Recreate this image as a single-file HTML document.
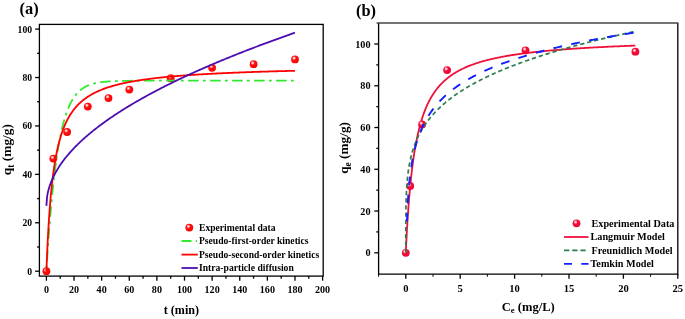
<!DOCTYPE html><html><head><meta charset="utf-8"><title>Figure</title><style>html,body{margin:0;padding:0;background:#fff}svg{display:block;filter:blur(0.45px)}</style></head><body><svg width="685" height="319" viewBox="0 0 685 319" font-family="'Liberation Serif', 'Times New Roman', serif" font-weight="bold" fill="#000">
<rect width="685" height="319" fill="#fff"/>
<defs><radialGradient id="ball" cx="0.38" cy="0.34" r="0.75"><stop offset="0" stop-color="#fff0f0"/><stop offset="0.14" stop-color="#ffc0c0"/><stop offset="0.34" stop-color="#ff1010"/><stop offset="1" stop-color="#fa0000"/></radialGradient>
<radialGradient id="ballb" cx="0.38" cy="0.34" r="0.75"><stop offset="0" stop-color="#fff0f4"/><stop offset="0.14" stop-color="#ffc0cc"/><stop offset="0.34" stop-color="#f5103c"/><stop offset="1" stop-color="#ee0030"/></radialGradient></defs>
<g stroke="#000" stroke-width="1.3" fill="none">
<rect x="39.4" y="24.4" width="283.8" height="251.7"/>
<path d="M39.4,271.20 h-4.3"/>
<path d="M39.4,246.99 h-2.3"/>
<path d="M39.4,222.78 h-4.3"/>
<path d="M39.4,198.57 h-2.3"/>
<path d="M39.4,174.36 h-4.3"/>
<path d="M39.4,150.15 h-2.3"/>
<path d="M39.4,125.94 h-4.3"/>
<path d="M39.4,101.73 h-2.3"/>
<path d="M39.4,77.52 h-4.3"/>
<path d="M39.4,53.31 h-2.3"/>
<path d="M39.4,29.10 h-4.3"/>
<path d="M46.40,276.1 v4.6"/>
<path d="M60.21,276.1 v2.6"/>
<path d="M74.02,276.1 v4.6"/>
<path d="M87.83,276.1 v2.6"/>
<path d="M101.64,276.1 v4.6"/>
<path d="M115.45,276.1 v2.6"/>
<path d="M129.26,276.1 v4.6"/>
<path d="M143.07,276.1 v2.6"/>
<path d="M156.88,276.1 v4.6"/>
<path d="M170.69,276.1 v2.6"/>
<path d="M184.50,276.1 v4.6"/>
<path d="M198.31,276.1 v2.6"/>
<path d="M212.12,276.1 v4.6"/>
<path d="M225.93,276.1 v2.6"/>
<path d="M239.74,276.1 v4.6"/>
<path d="M253.55,276.1 v2.6"/>
<path d="M267.36,276.1 v4.6"/>
<path d="M281.17,276.1 v2.6"/>
<path d="M294.98,276.1 v4.6"/>
<path d="M308.79,276.1 v2.6"/>
<path d="M322.60,276.1 v4.6"/>
</g>
<g font-size="9.8">
<text transform="translate(32.10,274.60) scale(0.930,1)" font-size="10.4" text-anchor="end">0</text>
<text transform="translate(32.10,226.18) scale(0.930,1)" font-size="10.4" text-anchor="end">20</text>
<text transform="translate(32.10,177.76) scale(0.930,1)" font-size="10.4" text-anchor="end">40</text>
<text transform="translate(32.10,129.34) scale(0.930,1)" font-size="10.4" text-anchor="end">60</text>
<text transform="translate(32.10,80.92) scale(0.930,1)" font-size="10.4" text-anchor="end">80</text>
<text transform="translate(32.10,32.50) scale(0.930,1)" font-size="10.4" text-anchor="end">100</text>
<text transform="translate(46.40,293.00) scale(0.970,1)" font-size="10.4" text-anchor="middle">0</text>
<text transform="translate(74.02,293.00) scale(0.970,1)" font-size="10.4" text-anchor="middle">20</text>
<text transform="translate(101.64,293.00) scale(0.970,1)" font-size="10.4" text-anchor="middle">40</text>
<text transform="translate(129.26,293.00) scale(0.970,1)" font-size="10.4" text-anchor="middle">60</text>
<text transform="translate(156.88,293.00) scale(0.970,1)" font-size="10.4" text-anchor="middle">80</text>
<text transform="translate(184.50,293.00) scale(0.970,1)" font-size="10.4" text-anchor="middle">100</text>
<text transform="translate(212.12,293.00) scale(0.970,1)" font-size="10.4" text-anchor="middle">120</text>
<text transform="translate(239.74,293.00) scale(0.970,1)" font-size="10.4" text-anchor="middle">140</text>
<text transform="translate(267.36,293.00) scale(0.970,1)" font-size="10.4" text-anchor="middle">160</text>
<text transform="translate(294.98,293.00) scale(0.970,1)" font-size="10.4" text-anchor="middle">180</text>
<text transform="translate(322.60,293.00) scale(0.970,1)" font-size="10.4" text-anchor="middle">200</text>
</g>
<text x="19.5" y="13.8" font-size="16.4">(a)</text>
<text x="181.4" y="313.6" font-size="12.1" text-anchor="middle">t (min)</text>
<text transform="translate(11.2,149.6) rotate(-90)" font-size="13.4" text-anchor="middle">q<tspan font-size="9.5" dy="3">t</tspan><tspan dy="-3"> (mg/g)</tspan></text>
<circle cx="46.4" cy="271.2" r="3.9" fill="url(#ball)"/>
<circle cx="53.3" cy="158.6" r="3.9" fill="url(#ball)"/>
<circle cx="67.1" cy="132.0" r="3.9" fill="url(#ball)"/>
<circle cx="87.8" cy="106.6" r="3.9" fill="url(#ball)"/>
<circle cx="108.5" cy="98.1" r="3.9" fill="url(#ball)"/>
<circle cx="129.3" cy="89.6" r="3.9" fill="url(#ball)"/>
<circle cx="170.7" cy="78.2" r="3.9" fill="url(#ball)"/>
<circle cx="212.1" cy="67.8" r="3.9" fill="url(#ball)"/>
<circle cx="253.6" cy="64.2" r="3.9" fill="url(#ball)"/>
<circle cx="295.0" cy="59.4" r="3.9" fill="url(#ball)"/>
<g fill="none" stroke-linejoin="round">
<path d="M46.40,271.20 L47.09,259.92 L47.78,249.32 L48.47,239.34 L49.16,229.95 L49.85,221.11 L50.54,212.80 L51.23,204.98 L51.92,197.63 L52.61,190.71 L53.30,184.19 L54.00,178.07 L54.69,172.30 L55.38,166.88 L56.07,161.78 L56.76,156.98 L57.45,152.46 L58.14,148.21 L58.83,144.22 L59.52,140.46 L60.21,136.92 L60.90,133.59 L61.59,130.46 L62.28,127.51 L62.97,124.74 L63.66,122.13 L64.35,119.68 L65.04,117.37 L65.73,115.20 L66.42,113.15 L67.11,111.23 L67.81,109.42 L68.50,107.72 L69.19,106.12 L69.88,104.61 L70.57,103.20 L71.26,101.86 L71.95,100.61 L72.64,99.43 L73.33,98.32 L74.02,97.27 L74.71,96.29 L75.40,95.37 L76.09,94.50 L76.78,93.68 L77.47,92.91 L78.16,92.18 L78.85,91.50 L79.54,90.86 L80.23,90.26 L80.92,89.69 L81.62,89.16 L82.31,88.65 L83.00,88.18 L83.69,87.74 L84.38,87.32 L85.07,86.93 L85.76,86.55 L86.45,86.21 L87.14,85.88 L87.83,85.57 L88.52,85.28 L89.21,85.01 L89.90,84.75 L90.59,84.51 L91.28,84.28 L91.97,84.07 L92.66,83.87 L93.35,83.68 L94.04,83.50 L94.73,83.33 L95.43,83.17 L96.12,83.03 L96.81,82.89 L97.50,82.75 L98.19,82.63 L98.88,82.51 L99.57,82.41 L100.26,82.30 L100.95,82.21 L101.64,82.11 L102.33,82.03 L103.02,81.95 L103.71,81.87 L104.40,81.80 L105.09,81.73 L105.78,81.67 L106.47,81.61 L107.16,81.56 L107.85,81.50 L108.55,81.45 L109.24,81.41 L109.93,81.36 L110.62,81.32 L111.31,81.28 L112.00,81.25 L112.69,81.21 L113.38,81.18 L114.07,81.15 L114.76,81.12 L115.45,81.09 L116.14,81.07 L116.83,81.05 L117.52,81.02 L118.21,81.00 L118.90,80.98 L119.59,80.96 L120.28,80.95 L120.97,80.93 L121.66,80.91 L122.35,80.90 L123.05,80.89 L123.74,80.87 L124.43,80.86 L125.12,80.85 L125.81,80.84 L126.50,80.83 L127.19,80.82 L127.88,80.81 L128.57,80.80 L129.26,80.79 L129.95,80.79 L130.64,80.78 L131.33,80.77 L132.02,80.77 L132.71,80.76 L133.40,80.75 L134.09,80.75 L134.78,80.74 L135.47,80.74 L136.16,80.74 L136.86,80.73 L137.55,80.73 L138.24,80.72 L138.93,80.72 L139.62,80.72 L140.31,80.71 L141.00,80.71 L141.69,80.71 L142.38,80.71 L143.07,80.70 L143.76,80.70 L144.45,80.70 L145.14,80.70 L145.83,80.70 L146.52,80.69 L147.21,80.69 L147.90,80.69 L148.59,80.69 L149.28,80.69 L149.97,80.69 L150.67,80.69 L151.36,80.69 L152.05,80.68 L152.74,80.68 L153.43,80.68 L154.12,80.68 L154.81,80.68 L155.50,80.68 L156.19,80.68 L156.88,80.68 L157.57,80.68 L158.26,80.68 L158.95,80.68 L159.64,80.68 L160.33,80.68 L161.02,80.67 L161.71,80.67 L162.40,80.67 L163.09,80.67 L163.78,80.67 L164.48,80.67 L165.17,80.67 L165.86,80.67 L166.55,80.67 L167.24,80.67 L167.93,80.67 L168.62,80.67 L169.31,80.67 L170.00,80.67 L170.69,80.67 L171.38,80.67 L172.07,80.67 L172.76,80.67 L173.45,80.67 L174.14,80.67 L174.83,80.67 L175.52,80.67 L176.21,80.67 L176.90,80.67 L177.59,80.67 L178.29,80.67 L178.98,80.67 L179.67,80.67 L180.36,80.67 L181.05,80.67 L181.74,80.67 L182.43,80.67 L183.12,80.67 L183.81,80.67 L184.50,80.67 L185.19,80.67 L185.88,80.67 L186.57,80.67 L187.26,80.67 L187.95,80.67 L188.64,80.67 L189.33,80.67 L190.02,80.67 L190.71,80.67 L191.41,80.67 L192.10,80.67 L192.79,80.67 L193.48,80.67 L194.17,80.67 L194.86,80.67 L195.55,80.67 L196.24,80.67 L196.93,80.67 L197.62,80.67 L198.31,80.67 L199.00,80.67 L199.69,80.67 L200.38,80.67 L201.07,80.67 L201.76,80.67 L202.45,80.67 L203.14,80.67 L203.83,80.67 L204.52,80.67 L205.22,80.67 L205.91,80.67 L206.60,80.67 L207.29,80.67 L207.98,80.67 L208.67,80.67 L209.36,80.67 L210.05,80.67 L210.74,80.67 L211.43,80.67 L212.12,80.67 L212.81,80.67 L213.50,80.67 L214.19,80.67 L214.88,80.67 L215.57,80.67 L216.26,80.67 L216.95,80.67 L217.64,80.67 L218.33,80.67 L219.03,80.67 L219.72,80.67 L220.41,80.67 L221.10,80.67 L221.79,80.67 L222.48,80.67 L223.17,80.67 L223.86,80.67 L224.55,80.67 L225.24,80.67 L225.93,80.67 L226.62,80.67 L227.31,80.67 L228.00,80.67 L228.69,80.67 L229.38,80.67 L230.07,80.67 L230.76,80.67 L231.45,80.67 L232.14,80.67 L232.84,80.67 L233.53,80.67 L234.22,80.67 L234.91,80.67 L235.60,80.67 L236.29,80.67 L236.98,80.67 L237.67,80.67 L238.36,80.67 L239.05,80.67 L239.74,80.67 L240.43,80.67 L241.12,80.67 L241.81,80.67 L242.50,80.67 L243.19,80.67 L243.88,80.67 L244.57,80.67 L245.26,80.67 L245.95,80.67 L246.65,80.67 L247.34,80.67 L248.03,80.67 L248.72,80.67 L249.41,80.67 L250.10,80.67 L250.79,80.67 L251.48,80.67 L252.17,80.67 L252.86,80.67 L253.55,80.67 L254.24,80.67 L254.93,80.67 L255.62,80.67 L256.31,80.67 L257.00,80.67 L257.69,80.67 L258.38,80.67 L259.07,80.67 L259.76,80.67 L260.45,80.67 L261.15,80.67 L261.84,80.67 L262.53,80.67 L263.22,80.67 L263.91,80.67 L264.60,80.67 L265.29,80.67 L265.98,80.67 L266.67,80.67 L267.36,80.67 L268.05,80.67 L268.74,80.67 L269.43,80.67 L270.12,80.67 L270.81,80.67 L271.50,80.67 L272.19,80.67 L272.88,80.67 L273.57,80.67 L274.26,80.67 L274.96,80.67 L275.65,80.67 L276.34,80.67 L277.03,80.67 L277.72,80.67 L278.41,80.67 L279.10,80.67 L279.79,80.67 L280.48,80.67 L281.17,80.67 L281.86,80.67 L282.55,80.67 L283.24,80.67 L283.93,80.67 L284.62,80.67 L285.31,80.67 L286.00,80.67 L286.69,80.67 L287.38,80.67 L288.07,80.67 L288.77,80.67 L289.46,80.67 L290.15,80.67 L290.84,80.67 L291.53,80.67 L292.22,80.67 L292.91,80.67 L293.60,80.67 L294.29,80.67 L294.98,80.67" stroke="#2fe82f" stroke-width="1.8" stroke-dasharray="10.5 4.3 2.8 4.4" stroke-dashoffset="11.5"/>
<path d="M46.40,271.20 L47.09,254.07 L47.78,239.56 L48.47,227.12 L49.16,216.33 L49.85,206.88 L50.54,198.54 L51.23,191.13 L51.92,184.49 L52.61,178.51 L53.30,173.10 L54.00,168.19 L54.69,163.70 L55.38,159.58 L56.07,155.79 L56.76,152.29 L57.45,149.05 L58.14,146.04 L58.83,143.24 L59.52,140.62 L60.21,138.18 L60.90,135.88 L61.59,133.73 L62.28,131.70 L62.97,129.79 L63.66,127.98 L64.35,126.27 L65.04,124.65 L65.73,123.11 L66.42,121.65 L67.11,120.26 L67.81,118.94 L68.50,117.68 L69.19,116.48 L69.88,115.33 L70.57,114.23 L71.26,113.17 L71.95,112.16 L72.64,111.19 L73.33,110.26 L74.02,109.37 L74.71,108.51 L75.40,107.68 L76.09,106.89 L76.78,106.12 L77.47,105.38 L78.16,104.66 L78.85,103.97 L79.54,103.31 L80.23,102.66 L80.92,102.04 L81.62,101.44 L82.31,100.85 L83.00,100.29 L83.69,99.74 L84.38,99.21 L85.07,98.69 L85.76,98.19 L86.45,97.71 L87.14,97.24 L87.83,96.78 L88.52,96.33 L89.21,95.90 L89.90,95.47 L90.59,95.06 L91.28,94.66 L91.97,94.27 L92.66,93.89 L93.35,93.52 L94.04,93.16 L94.73,92.81 L95.43,92.47 L96.12,92.13 L96.81,91.80 L97.50,91.49 L98.19,91.17 L98.88,90.87 L99.57,90.57 L100.26,90.28 L100.95,89.99 L101.64,89.72 L102.33,89.44 L103.02,89.18 L103.71,88.92 L104.40,88.66 L105.09,88.41 L105.78,88.16 L106.47,87.92 L107.16,87.69 L107.85,87.46 L108.55,87.23 L109.24,87.01 L109.93,86.79 L110.62,86.58 L111.31,86.37 L112.00,86.17 L112.69,85.97 L113.38,85.77 L114.07,85.58 L114.76,85.39 L115.45,85.20 L116.14,85.01 L116.83,84.83 L117.52,84.66 L118.21,84.48 L118.90,84.31 L119.59,84.14 L120.28,83.98 L120.97,83.82 L121.66,83.66 L122.35,83.50 L123.05,83.34 L123.74,83.19 L124.43,83.04 L125.12,82.90 L125.81,82.75 L126.50,82.61 L127.19,82.47 L127.88,82.33 L128.57,82.19 L129.26,82.06 L129.95,81.93 L130.64,81.80 L131.33,81.67 L132.02,81.54 L132.71,81.42 L133.40,81.30 L134.09,81.18 L134.78,81.06 L135.47,80.94 L136.16,80.82 L136.86,80.71 L137.55,80.60 L138.24,80.49 L138.93,80.38 L139.62,80.27 L140.31,80.16 L141.00,80.06 L141.69,79.95 L142.38,79.85 L143.07,79.75 L143.76,79.65 L144.45,79.55 L145.14,79.46 L145.83,79.36 L146.52,79.27 L147.21,79.17 L147.90,79.08 L148.59,78.99 L149.28,78.90 L149.97,78.81 L150.67,78.73 L151.36,78.64 L152.05,78.55 L152.74,78.47 L153.43,78.39 L154.12,78.30 L154.81,78.22 L155.50,78.14 L156.19,78.06 L156.88,77.98 L157.57,77.91 L158.26,77.83 L158.95,77.75 L159.64,77.68 L160.33,77.60 L161.02,77.53 L161.71,77.46 L162.40,77.39 L163.09,77.32 L163.78,77.25 L164.48,77.18 L165.17,77.11 L165.86,77.04 L166.55,76.97 L167.24,76.91 L167.93,76.84 L168.62,76.78 L169.31,76.71 L170.00,76.65 L170.69,76.59 L171.38,76.52 L172.07,76.46 L172.76,76.40 L173.45,76.34 L174.14,76.28 L174.83,76.22 L175.52,76.16 L176.21,76.11 L176.90,76.05 L177.59,75.99 L178.29,75.93 L178.98,75.88 L179.67,75.82 L180.36,75.77 L181.05,75.72 L181.74,75.66 L182.43,75.61 L183.12,75.56 L183.81,75.50 L184.50,75.45 L185.19,75.40 L185.88,75.35 L186.57,75.30 L187.26,75.25 L187.95,75.20 L188.64,75.15 L189.33,75.11 L190.02,75.06 L190.71,75.01 L191.41,74.96 L192.10,74.92 L192.79,74.87 L193.48,74.82 L194.17,74.78 L194.86,74.73 L195.55,74.69 L196.24,74.65 L196.93,74.60 L197.62,74.56 L198.31,74.52 L199.00,74.47 L199.69,74.43 L200.38,74.39 L201.07,74.35 L201.76,74.31 L202.45,74.27 L203.14,74.23 L203.83,74.19 L204.52,74.15 L205.22,74.11 L205.91,74.07 L206.60,74.03 L207.29,73.99 L207.98,73.95 L208.67,73.91 L209.36,73.88 L210.05,73.84 L210.74,73.80 L211.43,73.76 L212.12,73.73 L212.81,73.69 L213.50,73.66 L214.19,73.62 L214.88,73.59 L215.57,73.55 L216.26,73.52 L216.95,73.48 L217.64,73.45 L218.33,73.41 L219.03,73.38 L219.72,73.35 L220.41,73.31 L221.10,73.28 L221.79,73.25 L222.48,73.22 L223.17,73.18 L223.86,73.15 L224.55,73.12 L225.24,73.09 L225.93,73.06 L226.62,73.03 L227.31,73.00 L228.00,72.96 L228.69,72.93 L229.38,72.90 L230.07,72.87 L230.76,72.85 L231.45,72.82 L232.14,72.79 L232.84,72.76 L233.53,72.73 L234.22,72.70 L234.91,72.67 L235.60,72.64 L236.29,72.62 L236.98,72.59 L237.67,72.56 L238.36,72.53 L239.05,72.51 L239.74,72.48 L240.43,72.45 L241.12,72.42 L241.81,72.40 L242.50,72.37 L243.19,72.35 L243.88,72.32 L244.57,72.29 L245.26,72.27 L245.95,72.24 L246.65,72.22 L247.34,72.19 L248.03,72.17 L248.72,72.14 L249.41,72.12 L250.10,72.09 L250.79,72.07 L251.48,72.05 L252.17,72.02 L252.86,72.00 L253.55,71.97 L254.24,71.95 L254.93,71.93 L255.62,71.90 L256.31,71.88 L257.00,71.86 L257.69,71.83 L258.38,71.81 L259.07,71.79 L259.76,71.77 L260.45,71.74 L261.15,71.72 L261.84,71.70 L262.53,71.68 L263.22,71.66 L263.91,71.64 L264.60,71.61 L265.29,71.59 L265.98,71.57 L266.67,71.55 L267.36,71.53 L268.05,71.51 L268.74,71.49 L269.43,71.47 L270.12,71.45 L270.81,71.43 L271.50,71.41 L272.19,71.39 L272.88,71.37 L273.57,71.35 L274.26,71.33 L274.96,71.31 L275.65,71.29 L276.34,71.27 L277.03,71.25 L277.72,71.23 L278.41,71.21 L279.10,71.19 L279.79,71.17 L280.48,71.16 L281.17,71.14 L281.86,71.12 L282.55,71.10 L283.24,71.08 L283.93,71.06 L284.62,71.05 L285.31,71.03 L286.00,71.01 L286.69,70.99 L287.38,70.97 L288.07,70.96 L288.77,70.94 L289.46,70.92 L290.15,70.90 L290.84,70.89 L291.53,70.87 L292.22,70.85 L292.91,70.84 L293.60,70.82 L294.29,70.80 L294.98,70.79" stroke="#f00" stroke-width="1.8"/>
<path d="M46.40,205.83 L47.09,196.71 L47.78,192.93 L48.47,190.03 L49.16,187.58 L49.85,185.43 L50.54,183.48 L51.23,181.69 L51.92,180.03 L52.61,178.46 L53.30,176.98 L54.00,175.57 L54.69,174.22 L55.38,172.93 L56.07,171.69 L56.76,170.49 L57.45,169.34 L58.14,168.21 L58.83,167.12 L59.52,166.06 L60.21,165.03 L60.90,164.02 L61.59,163.04 L62.28,162.07 L62.97,161.13 L63.66,160.21 L64.35,159.31 L65.04,158.42 L65.73,157.55 L66.42,156.70 L67.11,155.86 L67.81,155.03 L68.50,154.22 L69.19,153.42 L69.88,152.63 L70.57,151.85 L71.26,151.09 L71.95,150.33 L72.64,149.59 L73.33,148.85 L74.02,148.12 L74.71,147.41 L75.40,146.70 L76.09,146.00 L76.78,145.31 L77.47,144.62 L78.16,143.95 L78.85,143.28 L79.54,142.62 L80.23,141.96 L80.92,141.31 L81.62,140.67 L82.31,140.04 L83.00,139.41 L83.69,138.78 L84.38,138.16 L85.07,137.55 L85.76,136.94 L86.45,136.34 L87.14,135.75 L87.83,135.16 L88.52,134.57 L89.21,133.99 L89.90,133.41 L90.59,132.84 L91.28,132.27 L91.97,131.71 L92.66,131.15 L93.35,130.59 L94.04,130.04 L94.73,129.49 L95.43,128.95 L96.12,128.41 L96.81,127.87 L97.50,127.34 L98.19,126.81 L98.88,126.29 L99.57,125.77 L100.26,125.25 L100.95,124.73 L101.64,124.22 L102.33,123.71 L103.02,123.21 L103.71,122.71 L104.40,122.21 L105.09,121.71 L105.78,121.22 L106.47,120.73 L107.16,120.24 L107.85,119.75 L108.55,119.27 L109.24,118.79 L109.93,118.31 L110.62,117.84 L111.31,117.37 L112.00,116.90 L112.69,116.43 L113.38,115.97 L114.07,115.51 L114.76,115.05 L115.45,114.59 L116.14,114.13 L116.83,113.68 L117.52,113.23 L118.21,112.78 L118.90,112.34 L119.59,111.89 L120.28,111.45 L120.97,111.01 L121.66,110.57 L122.35,110.13 L123.05,109.70 L123.74,109.27 L124.43,108.84 L125.12,108.41 L125.81,107.98 L126.50,107.56 L127.19,107.14 L127.88,106.72 L128.57,106.30 L129.26,105.88 L129.95,105.46 L130.64,105.05 L131.33,104.64 L132.02,104.23 L132.71,103.82 L133.40,103.41 L134.09,103.01 L134.78,102.60 L135.47,102.20 L136.16,101.80 L136.86,101.40 L137.55,101.00 L138.24,100.60 L138.93,100.21 L139.62,99.82 L140.31,99.42 L141.00,99.03 L141.69,98.64 L142.38,98.26 L143.07,97.87 L143.76,97.49 L144.45,97.10 L145.14,96.72 L145.83,96.34 L146.52,95.96 L147.21,95.58 L147.90,95.20 L148.59,94.83 L149.28,94.45 L149.97,94.08 L150.67,93.71 L151.36,93.34 L152.05,92.97 L152.74,92.60 L153.43,92.23 L154.12,91.87 L154.81,91.50 L155.50,91.14 L156.19,90.78 L156.88,90.42 L157.57,90.06 L158.26,89.70 L158.95,89.34 L159.64,88.98 L160.33,88.63 L161.02,88.27 L161.71,87.92 L162.40,87.57 L163.09,87.22 L163.78,86.86 L164.48,86.52 L165.17,86.17 L165.86,85.82 L166.55,85.47 L167.24,85.13 L167.93,84.78 L168.62,84.44 L169.31,84.10 L170.00,83.76 L170.69,83.42 L171.38,83.08 L172.07,82.74 L172.76,82.40 L173.45,82.06 L174.14,81.73 L174.83,81.39 L175.52,81.06 L176.21,80.72 L176.90,80.39 L177.59,80.06 L178.29,79.73 L178.98,79.40 L179.67,79.07 L180.36,78.74 L181.05,78.42 L181.74,78.09 L182.43,77.77 L183.12,77.44 L183.81,77.12 L184.50,76.79 L185.19,76.47 L185.88,76.15 L186.57,75.83 L187.26,75.51 L187.95,75.19 L188.64,74.87 L189.33,74.55 L190.02,74.24 L190.71,73.92 L191.41,73.61 L192.10,73.29 L192.79,72.98 L193.48,72.67 L194.17,72.35 L194.86,72.04 L195.55,71.73 L196.24,71.42 L196.93,71.11 L197.62,70.80 L198.31,70.50 L199.00,70.19 L199.69,69.88 L200.38,69.58 L201.07,69.27 L201.76,68.97 L202.45,68.66 L203.14,68.36 L203.83,68.06 L204.52,67.75 L205.22,67.45 L205.91,67.15 L206.60,66.85 L207.29,66.55 L207.98,66.26 L208.67,65.96 L209.36,65.66 L210.05,65.36 L210.74,65.07 L211.43,64.77 L212.12,64.48 L212.81,64.18 L213.50,63.89 L214.19,63.60 L214.88,63.30 L215.57,63.01 L216.26,62.72 L216.95,62.43 L217.64,62.14 L218.33,61.85 L219.03,61.56 L219.72,61.27 L220.41,60.99 L221.10,60.70 L221.79,60.41 L222.48,60.13 L223.17,59.84 L223.86,59.56 L224.55,59.27 L225.24,58.99 L225.93,58.71 L226.62,58.42 L227.31,58.14 L228.00,57.86 L228.69,57.58 L229.38,57.30 L230.07,57.02 L230.76,56.74 L231.45,56.46 L232.14,56.18 L232.84,55.90 L233.53,55.63 L234.22,55.35 L234.91,55.07 L235.60,54.80 L236.29,54.52 L236.98,54.25 L237.67,53.97 L238.36,53.70 L239.05,53.42 L239.74,53.15 L240.43,52.88 L241.12,52.61 L241.81,52.34 L242.50,52.06 L243.19,51.79 L243.88,51.52 L244.57,51.25 L245.26,50.99 L245.95,50.72 L246.65,50.45 L247.34,50.18 L248.03,49.91 L248.72,49.65 L249.41,49.38 L250.10,49.12 L250.79,48.85 L251.48,48.58 L252.17,48.32 L252.86,48.06 L253.55,47.79 L254.24,47.53 L254.93,47.27 L255.62,47.00 L256.31,46.74 L257.00,46.48 L257.69,46.22 L258.38,45.96 L259.07,45.70 L259.76,45.44 L260.45,45.18 L261.15,44.92 L261.84,44.66 L262.53,44.40 L263.22,44.15 L263.91,43.89 L264.60,43.63 L265.29,43.38 L265.98,43.12 L266.67,42.86 L267.36,42.61 L268.05,42.35 L268.74,42.10 L269.43,41.85 L270.12,41.59 L270.81,41.34 L271.50,41.09 L272.19,40.83 L272.88,40.58 L273.57,40.33 L274.26,40.08 L274.96,39.83 L275.65,39.58 L276.34,39.33 L277.03,39.08 L277.72,38.83 L278.41,38.58 L279.10,38.33 L279.79,38.08 L280.48,37.83 L281.17,37.59 L281.86,37.34 L282.55,37.09 L283.24,36.85 L283.93,36.60 L284.62,36.35 L285.31,36.11 L286.00,35.86 L286.69,35.62 L287.38,35.37 L288.07,35.13 L288.77,34.89 L289.46,34.64 L290.15,34.40 L290.84,34.16 L291.53,33.92 L292.22,33.67 L292.91,33.43 L293.60,33.19 L294.29,32.95 L294.98,32.71" stroke="#4d0db0" stroke-width="1.8"/>
</g>
<circle cx="189.3" cy="227.6" r="3.9" fill="url(#ball)"/>
<g fill="none">
<path d="M181.5,241 H191.5 M195.8,241 h1.2" stroke="#2fe82f" stroke-width="1.8"/>
<path d="M181.5,254.6 H197.8" stroke="#f00" stroke-width="1.8"/>
<path d="M181.5,268 H197.8" stroke="#4d0db0" stroke-width="1.8"/>
</g>
<g font-size="9.62">
<text x="199" y="230.8">Experimental data</text>
<text x="199" y="244.2">Pseudo-first-order kinetics</text>
<text x="199" y="257.7">Pseudo-second-order kinetics</text>
<text x="199" y="271.1">Intra-particle diffusion</text>
</g>
<g stroke="#000" stroke-width="1.3" fill="none">
<path d="M378.6,23.0 V274.1 H677.8 V23.0"/>
<path d="M376.6,23.0 H678.4" stroke="#444" stroke-width="1.6"/>
<path d="M378.6,252.80 h-4.3"/>
<path d="M378.6,231.92 h-2.3"/>
<path d="M378.6,211.04 h-4.3"/>
<path d="M378.6,190.16 h-2.3"/>
<path d="M378.6,169.28 h-4.3"/>
<path d="M378.6,148.40 h-2.3"/>
<path d="M378.6,127.52 h-4.3"/>
<path d="M378.6,106.64 h-2.3"/>
<path d="M378.6,85.76 h-4.3"/>
<path d="M378.6,64.88 h-2.3"/>
<path d="M378.6,44.00 h-4.3"/>
<path d="M378.60,274.1 v2.6" stroke-width="1"/>
<path d="M405.80,274.1 v4.6" stroke-width="1.3"/>
<path d="M433.00,274.1 v2.6" stroke-width="1"/>
<path d="M460.20,274.1 v4.6" stroke-width="1.3"/>
<path d="M487.40,274.1 v2.6" stroke-width="1"/>
<path d="M514.60,274.1 v4.6" stroke-width="1.3"/>
<path d="M541.80,274.1 v2.6" stroke-width="1"/>
<path d="M569.00,274.1 v4.6" stroke-width="1.3"/>
<path d="M596.20,274.1 v2.6" stroke-width="1"/>
<path d="M623.40,274.1 v4.6" stroke-width="1.3"/>
<path d="M650.60,274.1 v2.6" stroke-width="1"/>
<path d="M677.80,274.1 v4.6" stroke-width="1.3"/>
</g>
<g font-size="9.8">
<text transform="translate(370.60,256.40) scale(0.940,1)" font-size="10.9" text-anchor="end">0</text>
<text transform="translate(370.60,214.64) scale(0.940,1)" font-size="10.9" text-anchor="end">20</text>
<text transform="translate(370.60,172.88) scale(0.940,1)" font-size="10.9" text-anchor="end">40</text>
<text transform="translate(370.60,131.12) scale(0.940,1)" font-size="10.9" text-anchor="end">60</text>
<text transform="translate(370.60,89.36) scale(0.940,1)" font-size="10.9" text-anchor="end">80</text>
<text transform="translate(370.60,47.60) scale(0.940,1)" font-size="10.9" text-anchor="end">100</text>
<text transform="translate(405.80,291.70) scale(0.960,1)" font-size="11.0" text-anchor="middle">0</text>
<text transform="translate(460.20,291.70) scale(0.960,1)" font-size="11.0" text-anchor="middle">5</text>
<text transform="translate(514.60,291.70) scale(0.960,1)" font-size="11.0" text-anchor="middle">10</text>
<text transform="translate(569.00,291.70) scale(0.960,1)" font-size="11.0" text-anchor="middle">15</text>
<text transform="translate(623.40,291.70) scale(0.960,1)" font-size="11.0" text-anchor="middle">20</text>
<text transform="translate(677.80,291.70) scale(0.960,1)" font-size="11.0" text-anchor="middle">25</text>
</g>
<text x="356" y="15.7" font-size="16.4">(b)</text>
<text x="528.3" y="310.6" font-size="12.55" text-anchor="middle">C<tspan font-size="8.7" dy="2.7">e</tspan><tspan dy="-2.7"> (mg/L)</tspan></text>
<text transform="translate(348.1,147.9) rotate(-90)" font-size="13.3" text-anchor="middle">q<tspan font-size="9.5" dy="3">e</tspan><tspan dy="-3"> (mg/g)</tspan></text>
<path d="M405.80,252.80 L405.80,252.77 L405.81,252.67 L405.81,252.52 L405.82,252.30 L405.84,252.02 L405.85,251.68 L405.87,251.28 L405.89,250.82 L405.92,250.29 L405.94,249.72 L405.97,249.08 L406.01,248.39 L406.04,247.64 L406.08,246.84 L406.12,245.98 L406.17,245.08 L406.21,244.12 L406.26,243.12 L406.32,242.07 L406.37,240.97 L406.43,239.83 L406.49,238.65 L406.56,237.42 L406.63,236.16 L406.70,234.87 L406.77,233.53 L406.85,232.17 L406.92,230.77 L407.01,229.34 L407.09,227.88 L407.18,226.40 L407.27,224.90 L407.36,223.37 L407.46,221.81 L407.56,220.24 L407.66,218.65 L407.76,217.05 L407.87,215.43 L407.98,213.80 L408.10,212.15 L408.21,210.50 L408.33,208.83 L408.45,207.16 L408.58,205.48 L408.71,203.80 L408.84,202.12 L408.97,200.43 L409.11,198.74 L409.24,197.05 L409.39,195.36 L409.53,193.68 L409.68,191.99 L409.83,190.31 L409.98,188.64 L410.14,186.97 L410.30,185.31 L410.46,183.66 L410.63,182.01 L410.79,180.37 L410.97,178.75 L411.14,177.13 L411.32,175.52 L411.49,173.93 L411.68,172.34 L411.86,170.77 L412.05,169.21 L412.24,167.66 L412.43,166.13 L412.63,164.61 L412.83,163.10 L413.03,161.61 L413.24,160.13 L413.45,158.67 L413.66,157.22 L413.87,155.79 L414.09,154.37 L414.31,152.97 L414.53,151.58 L414.75,150.21 L414.98,148.85 L415.21,147.51 L415.45,146.18 L415.68,144.87 L415.92,143.58 L416.17,142.30 L416.41,141.04 L416.66,139.79 L416.91,138.56 L417.17,137.34 L417.42,136.14 L417.68,134.95 L417.94,133.78 L418.21,132.63 L418.48,131.49 L418.75,130.36 L419.02,129.25 L419.30,128.16 L419.58,127.08 L419.86,126.01 L420.15,124.96 L420.44,123.92 L420.73,122.90 L421.02,121.89 L421.32,120.89 L421.62,119.91 L421.92,118.94 L422.23,117.99 L422.54,117.05 L422.85,116.12 L423.16,115.20 L423.48,114.30 L423.80,113.41 L424.12,112.53 L424.45,111.67 L424.78,110.81 L425.11,109.97 L425.44,109.14 L425.78,108.33 L426.12,107.52 L426.46,106.72 L426.81,105.94 L427.16,105.17 L427.51,104.41 L427.86,103.66 L428.22,102.92 L428.58,102.19 L428.94,101.47 L429.31,100.76 L429.68,100.06 L430.05,99.37 L430.42,98.69 L430.80,98.02 L431.18,97.35 L431.56,96.70 L431.95,96.06 L432.34,95.43 L432.73,94.80 L433.12,94.19 L433.52,93.58 L433.92,92.98 L434.33,92.39 L434.73,91.81 L435.14,91.23 L435.55,90.66 L435.97,90.11 L436.38,89.55 L436.80,89.01 L437.23,88.47 L437.65,87.95 L438.08,87.42 L438.51,86.91 L438.95,86.40 L439.39,85.90 L439.83,85.41 L440.27,84.92 L440.72,84.44 L441.17,83.97 L441.62,83.50 L442.07,83.04 L442.53,82.58 L442.99,82.13 L443.45,81.69 L443.92,81.25 L444.39,80.82 L444.86,80.40 L445.34,79.98 L445.82,79.56 L446.30,79.15 L446.78,78.75 L447.27,78.35 L447.75,77.96 L448.25,77.57 L448.74,77.18 L449.24,76.81 L449.74,76.43 L450.24,76.06 L450.75,75.70 L451.26,75.34 L451.77,74.99 L452.29,74.64 L452.81,74.29 L453.33,73.95 L453.85,73.61 L454.38,73.28 L454.91,72.95 L455.44,72.63 L455.97,72.31 L456.51,71.99 L457.05,71.68 L457.60,71.37 L458.14,71.06 L458.69,70.76 L459.24,70.47 L459.80,70.17 L460.36,69.88 L460.92,69.59 L461.48,69.31 L462.05,69.03 L462.62,68.76 L463.19,68.48 L463.77,68.21 L464.35,67.95 L464.93,67.68 L465.51,67.42 L466.10,67.16 L466.69,66.91 L467.28,66.66 L467.88,66.41 L468.47,66.17 L469.07,65.92 L469.68,65.68 L470.29,65.45 L470.90,65.21 L471.51,64.98 L472.12,64.75 L472.74,64.53 L473.36,64.30 L473.99,64.08 L474.61,63.86 L475.24,63.65 L475.88,63.43 L476.51,63.22 L477.15,63.01 L477.79,62.81 L478.44,62.60 L479.08,62.40 L479.73,62.20 L480.39,62.00 L481.04,61.81 L481.70,61.62 L482.36,61.43 L483.03,61.24 L483.69,61.05 L484.36,60.86 L485.04,60.68 L485.71,60.50 L486.39,60.32 L487.07,60.15 L487.76,59.97 L488.44,59.80 L489.13,59.63 L489.83,59.46 L490.52,59.29 L491.22,59.12 L491.92,58.96 L492.63,58.80 L493.34,58.64 L494.05,58.48 L494.76,58.32 L495.48,58.16 L496.19,58.01 L496.92,57.86 L497.64,57.71 L498.37,57.56 L499.10,57.41 L499.83,57.26 L500.57,57.12 L501.31,56.97 L502.05,56.83 L502.79,56.69 L503.54,56.55 L504.29,56.41 L505.04,56.28 L505.80,56.14 L506.56,56.01 L507.32,55.88 L508.09,55.75 L508.85,55.62 L509.62,55.49 L510.40,55.36 L511.17,55.23 L511.95,55.11 L512.73,54.99 L513.52,54.86 L514.31,54.74 L515.10,54.62 L515.89,54.50 L516.69,54.39 L517.49,54.27 L518.29,54.15 L519.09,54.04 L519.90,53.93 L520.71,53.81 L521.53,53.70 L522.34,53.59 L523.16,53.48 L523.98,53.38 L524.81,53.27 L525.64,53.16 L526.47,53.06 L527.30,52.95 L528.14,52.85 L528.98,52.75 L529.82,52.65 L530.66,52.55 L531.51,52.45 L532.36,52.35 L533.22,52.25 L534.07,52.15 L534.93,52.06 L535.79,51.96 L536.66,51.87 L537.53,51.78 L538.40,51.68 L539.27,51.59 L540.15,51.50 L541.03,51.41 L541.91,51.32 L542.80,51.23 L543.68,51.15 L544.58,51.06 L545.47,50.97 L546.37,50.89 L547.27,50.80 L548.17,50.72 L549.07,50.64 L549.98,50.55 L550.89,50.47 L551.81,50.39 L552.72,50.31 L553.64,50.23 L554.57,50.15 L555.49,50.07 L556.42,50.00 L557.35,49.92 L558.28,49.84 L559.22,49.77 L560.16,49.69 L561.10,49.62 L562.05,49.54 L563.00,49.47 L563.95,49.40 L564.90,49.33 L565.86,49.25 L566.82,49.18 L567.78,49.11 L568.75,49.04 L569.72,48.98 L570.69,48.91 L571.66,48.84 L572.64,48.77 L573.62,48.70 L574.60,48.64 L575.59,48.57 L576.58,48.51 L577.57,48.44 L578.56,48.38 L579.56,48.31 L580.56,48.25 L581.56,48.19 L582.57,48.13 L583.58,48.07 L584.59,48.00 L585.60,47.94 L586.62,47.88 L587.64,47.82 L588.66,47.76 L589.69,47.71 L590.72,47.65 L591.75,47.59 L592.78,47.53 L593.82,47.47 L594.86,47.42 L595.91,47.36 L596.95,47.31 L598.00,47.25 L599.05,47.20 L600.11,47.14 L601.16,47.09 L602.22,47.03 L603.29,46.98 L604.35,46.93 L605.42,46.88 L606.49,46.82 L607.57,46.77 L608.65,46.72 L609.73,46.67 L610.81,46.62 L611.90,46.57 L612.99,46.52 L614.08,46.47 L615.17,46.42 L616.27,46.37 L617.37,46.32 L618.47,46.28 L619.58,46.23 L620.69,46.18 L621.80,46.13 L622.92,46.09 L624.03,46.04 L625.15,46.00 L626.28,45.95 L627.40,45.90 L628.53,45.86 L629.66,45.81 L630.80,45.77 L631.94,45.73 L633.08,45.68 L634.22,45.64 L635.37,45.60" stroke="#f0103c" stroke-width="1.8" fill="none" stroke-linejoin="round"/>
<circle cx="405.8" cy="252.8" r="3.9" fill="url(#ballb)"/>
<circle cx="410.2" cy="186.0" r="3.9" fill="url(#ballb)"/>
<circle cx="422.1" cy="124.4" r="3.9" fill="url(#ballb)"/>
<circle cx="447.1" cy="70.1" r="3.9" fill="url(#ballb)"/>
<circle cx="525.5" cy="50.3" r="3.9" fill="url(#ballb)"/>
<circle cx="635.4" cy="51.7" r="3.9" fill="url(#ballb)"/>
<g fill="none" stroke-linejoin="round">
<path d="M405.80,252.80 L405.80,237.08 L405.81,231.45 L405.81,227.26 L405.82,223.81 L405.84,220.80 L405.85,218.12 L405.87,215.68 L405.89,213.43 L405.92,211.33 L405.94,209.35 L405.97,207.49 L406.01,205.71 L406.04,204.02 L406.08,202.40 L406.12,200.84 L406.17,199.34 L406.21,197.89 L406.26,196.48 L406.32,195.12 L406.37,193.80 L406.43,192.52 L406.49,191.27 L406.56,190.05 L406.63,188.86 L406.70,187.69 L406.77,186.56 L406.85,185.44 L406.92,184.35 L407.01,183.29 L407.09,182.24 L407.18,181.21 L407.27,180.20 L407.36,179.21 L407.46,178.23 L407.56,177.27 L407.66,176.33 L407.76,175.39 L407.87,174.48 L407.98,173.57 L408.10,172.68 L408.21,171.81 L408.33,170.94 L408.45,170.09 L408.58,169.24 L408.71,168.41 L408.84,167.59 L408.97,166.77 L409.11,165.97 L409.24,165.18 L409.39,164.39 L409.53,163.62 L409.68,162.85 L409.83,162.09 L409.98,161.34 L410.14,160.59 L410.30,159.86 L410.46,159.13 L410.63,158.41 L410.79,157.69 L410.97,156.98 L411.14,156.28 L411.32,155.59 L411.49,154.90 L411.68,154.21 L411.86,153.54 L412.05,152.87 L412.24,152.20 L412.43,151.54 L412.63,150.89 L412.83,150.24 L413.03,149.59 L413.24,148.95 L413.45,148.32 L413.66,147.69 L413.87,147.06 L414.09,146.44 L414.31,145.83 L414.53,145.22 L414.75,144.61 L414.98,144.01 L415.21,143.41 L415.45,142.82 L415.68,142.23 L415.92,141.64 L416.17,141.06 L416.41,140.48 L416.66,139.91 L416.91,139.33 L417.17,138.77 L417.42,138.20 L417.68,137.64 L417.94,137.09 L418.21,136.53 L418.48,135.98 L418.75,135.44 L419.02,134.89 L419.30,134.35 L419.58,133.81 L419.86,133.28 L420.15,132.75 L420.44,132.22 L420.73,131.69 L421.02,131.17 L421.32,130.65 L421.62,130.14 L421.92,129.62 L422.23,129.11 L422.54,128.60 L422.85,128.09 L423.16,127.59 L423.48,127.09 L423.80,126.59 L424.12,126.09 L424.45,125.60 L424.78,125.11 L425.11,124.62 L425.44,124.13 L425.78,123.65 L426.12,123.17 L426.46,122.69 L426.81,122.21 L427.16,121.74 L427.51,121.26 L427.86,120.79 L428.22,120.32 L428.58,119.86 L428.94,119.39 L429.31,118.93 L429.68,118.47 L430.05,118.01 L430.42,117.55 L430.80,117.10 L431.18,116.64 L431.56,116.19 L431.95,115.74 L432.34,115.30 L432.73,114.85 L433.12,114.41 L433.52,113.97 L433.92,113.53 L434.33,113.09 L434.73,112.65 L435.14,112.22 L435.55,111.78 L435.97,111.35 L436.38,110.92 L436.80,110.49 L437.23,110.07 L437.65,109.64 L438.08,109.22 L438.51,108.80 L438.95,108.38 L439.39,107.96 L439.83,107.54 L440.27,107.13 L440.72,106.71 L441.17,106.30 L441.62,105.89 L442.07,105.48 L442.53,105.07 L442.99,104.66 L443.45,104.26 L443.92,103.85 L444.39,103.45 L444.86,103.05 L445.34,102.65 L445.82,102.25 L446.30,101.85 L446.78,101.46 L447.27,101.06 L447.75,100.67 L448.25,100.28 L448.74,99.89 L449.24,99.50 L449.74,99.11 L450.24,98.72 L450.75,98.34 L451.26,97.95 L451.77,97.57 L452.29,97.19 L452.81,96.81 L453.33,96.43 L453.85,96.05 L454.38,95.67 L454.91,95.29 L455.44,94.92 L455.97,94.54 L456.51,94.17 L457.05,93.80 L457.60,93.43 L458.14,93.06 L458.69,92.69 L459.24,92.32 L459.80,91.96 L460.36,91.59 L460.92,91.23 L461.48,90.86 L462.05,90.50 L462.62,90.14 L463.19,89.78 L463.77,89.42 L464.35,89.06 L464.93,88.70 L465.51,88.35 L466.10,87.99 L466.69,87.64 L467.28,87.29 L467.88,86.93 L468.47,86.58 L469.07,86.23 L469.68,85.88 L470.29,85.53 L470.90,85.18 L471.51,84.84 L472.12,84.49 L472.74,84.15 L473.36,83.80 L473.99,83.46 L474.61,83.12 L475.24,82.78 L475.88,82.43 L476.51,82.09 L477.15,81.76 L477.79,81.42 L478.44,81.08 L479.08,80.74 L479.73,80.41 L480.39,80.07 L481.04,79.74 L481.70,79.41 L482.36,79.07 L483.03,78.74 L483.69,78.41 L484.36,78.08 L485.04,77.75 L485.71,77.42 L486.39,77.10 L487.07,76.77 L487.76,76.44 L488.44,76.12 L489.13,75.79 L489.83,75.47 L490.52,75.15 L491.22,74.82 L491.92,74.50 L492.63,74.18 L493.34,73.86 L494.05,73.54 L494.76,73.22 L495.48,72.91 L496.19,72.59 L496.92,72.27 L497.64,71.96 L498.37,71.64 L499.10,71.33 L499.83,71.01 L500.57,70.70 L501.31,70.39 L502.05,70.08 L502.79,69.76 L503.54,69.45 L504.29,69.14 L505.04,68.83 L505.80,68.53 L506.56,68.22 L507.32,67.91 L508.09,67.60 L508.85,67.30 L509.62,66.99 L510.40,66.69 L511.17,66.39 L511.95,66.08 L512.73,65.78 L513.52,65.48 L514.31,65.18 L515.10,64.87 L515.89,64.57 L516.69,64.28 L517.49,63.98 L518.29,63.68 L519.09,63.38 L519.90,63.08 L520.71,62.79 L521.53,62.49 L522.34,62.19 L523.16,61.90 L523.98,61.61 L524.81,61.31 L525.64,61.02 L526.47,60.73 L527.30,60.43 L528.14,60.14 L528.98,59.85 L529.82,59.56 L530.66,59.27 L531.51,58.98 L532.36,58.69 L533.22,58.40 L534.07,58.12 L534.93,57.83 L535.79,57.54 L536.66,57.26 L537.53,56.97 L538.40,56.69 L539.27,56.40 L540.15,56.12 L541.03,55.83 L541.91,55.55 L542.80,55.27 L543.68,54.99 L544.58,54.71 L545.47,54.42 L546.37,54.14 L547.27,53.86 L548.17,53.59 L549.07,53.31 L549.98,53.03 L550.89,52.75 L551.81,52.47 L552.72,52.20 L553.64,51.92 L554.57,51.64 L555.49,51.37 L556.42,51.09 L557.35,50.82 L558.28,50.54 L559.22,50.27 L560.16,50.00 L561.10,49.72 L562.05,49.45 L563.00,49.18 L563.95,48.91 L564.90,48.64 L565.86,48.37 L566.82,48.10 L567.78,47.83 L568.75,47.56 L569.72,47.29 L570.69,47.02 L571.66,46.75 L572.64,46.49 L573.62,46.22 L574.60,45.95 L575.59,45.69 L576.58,45.42 L577.57,45.16 L578.56,44.89 L579.56,44.63 L580.56,44.37 L581.56,44.10 L582.57,43.84 L583.58,43.58 L584.59,43.31 L585.60,43.05 L586.62,42.79 L587.64,42.53 L588.66,42.27 L589.69,42.01 L590.72,41.75 L591.75,41.49 L592.78,41.23 L593.82,40.97 L594.86,40.71 L595.91,40.46 L596.95,40.20 L598.00,39.94 L599.05,39.69 L600.11,39.43 L601.16,39.17 L602.22,38.92 L603.29,38.66 L604.35,38.41 L605.42,38.16 L606.49,37.90 L607.57,37.65 L608.65,37.40 L609.73,37.14 L610.81,36.89 L611.90,36.64 L612.99,36.39 L614.08,36.14 L615.17,35.88 L616.27,35.63 L617.37,35.38 L618.47,35.13 L619.58,34.89 L620.69,34.64 L621.80,34.39 L622.92,34.14 L624.03,33.89 L625.15,33.64 L626.28,33.40 L627.40,33.15 L628.53,32.90 L629.66,32.66 L630.80,32.41 L631.94,32.17 L633.08,31.92 L634.22,31.68 L635.37,31.43" stroke="#2e7d4f" stroke-width="1.7" stroke-dasharray="4.3 2.9"/>
<path d="M407.01,221.35 L407.09,218.91 L407.18,216.55 L407.27,214.26 L407.36,212.05 L407.46,209.90 L407.56,207.81 L407.66,205.79 L407.76,203.81 L407.87,201.89 L407.98,200.02 L408.10,198.20 L408.21,196.42 L408.33,194.69 L408.45,192.99 L408.58,191.34 L408.71,189.72 L408.84,188.14 L408.97,186.59 L409.11,185.07 L409.24,183.59 L409.39,182.13 L409.53,180.71 L409.68,179.31 L409.83,177.94 L409.98,176.59 L410.14,175.27 L410.30,173.98 L410.46,172.70 L410.63,171.45 L410.79,170.22 L410.97,169.01 L411.14,167.82 L411.32,166.65 L411.49,165.50 L411.68,164.36 L411.86,163.25 L412.05,162.15 L412.24,161.06 L412.43,160.00 L412.63,158.95 L412.83,157.91 L413.03,156.89 L413.24,155.88 L413.45,154.89 L413.66,153.91 L413.87,152.94 L414.09,151.99 L414.31,151.05 L414.53,150.12 L414.75,149.20 L414.98,148.30 L415.21,147.40 L415.45,146.52 L415.68,145.65 L415.92,144.78 L416.17,143.93 L416.41,143.09 L416.66,142.26 L416.91,141.44 L417.17,140.62 L417.42,139.82 L417.68,139.02 L417.94,138.24 L418.21,137.46 L418.48,136.69 L418.75,135.92 L419.02,135.17 L419.30,134.42 L419.58,133.69 L419.86,132.96 L420.15,132.23 L420.44,131.52 L420.73,130.81 L421.02,130.10 L421.32,129.41 L421.62,128.72 L421.92,128.04 L422.23,127.36 L422.54,126.69 L422.85,126.03 L423.16,125.37 L423.48,124.72 L423.80,124.07 L424.12,123.43 L424.45,122.80 L424.78,122.17 L425.11,121.55 L425.44,120.93 L425.78,120.32 L426.12,119.71 L426.46,119.11 L426.81,118.51 L427.16,117.92 L427.51,117.33 L427.86,116.75 L428.22,116.17 L428.58,115.59 L428.94,115.02 L429.31,114.46 L429.68,113.90 L430.05,113.34 L430.42,112.79 L430.80,112.24 L431.18,111.70 L431.56,111.16 L431.95,110.63 L432.34,110.09 L432.73,109.57 L433.12,109.04 L433.52,108.52 L433.92,108.01 L434.33,107.50 L434.73,106.99 L435.14,106.48 L435.55,105.98 L435.97,105.48 L436.38,104.99 L436.80,104.50 L437.23,104.01 L437.65,103.52 L438.08,103.04 L438.51,102.56 L438.95,102.09 L439.39,101.62 L439.83,101.15 L440.27,100.68 L440.72,100.22 L441.17,99.76 L441.62,99.30 L442.07,98.85 L442.53,98.39 L442.99,97.95 L443.45,97.50 L443.92,97.06 L444.39,96.62 L444.86,96.18 L445.34,95.74 L445.82,95.31 L446.30,94.88 L446.78,94.45 L447.27,94.03 L447.75,93.61 L448.25,93.19 L448.74,92.77 L449.24,92.36 L449.74,91.94 L450.24,91.53 L450.75,91.12 L451.26,90.72 L451.77,90.32 L452.29,89.91 L452.81,89.52 L453.33,89.12 L453.85,88.72 L454.38,88.33 L454.91,87.94 L455.44,87.55 L455.97,87.17 L456.51,86.78 L457.05,86.40 L457.60,86.02 L458.14,85.64 L458.69,85.27 L459.24,84.89 L459.80,84.52 L460.36,84.15 L460.92,83.78 L461.48,83.42 L462.05,83.05 L462.62,82.69 L463.19,82.33 L463.77,81.97 L464.35,81.61 L464.93,81.26 L465.51,80.90 L466.10,80.55 L466.69,80.20 L467.28,79.85 L467.88,79.51 L468.47,79.16 L469.07,78.82 L469.68,78.47 L470.29,78.13 L470.90,77.80 L471.51,77.46 L472.12,77.12 L472.74,76.79 L473.36,76.46 L473.99,76.13 L474.61,75.80 L475.24,75.47 L475.88,75.14 L476.51,74.82 L477.15,74.49 L477.79,74.17 L478.44,73.85 L479.08,73.53 L479.73,73.21 L480.39,72.90 L481.04,72.58 L481.70,72.27 L482.36,71.96 L483.03,71.64 L483.69,71.33 L484.36,71.03 L485.04,70.72 L485.71,70.41 L486.39,70.11 L487.07,69.81 L487.76,69.50 L488.44,69.20 L489.13,68.90 L489.83,68.61 L490.52,68.31 L491.22,68.01 L491.92,67.72 L492.63,67.43 L493.34,67.13 L494.05,66.84 L494.76,66.55 L495.48,66.26 L496.19,65.98 L496.92,65.69 L497.64,65.41 L498.37,65.12 L499.10,64.84 L499.83,64.56 L500.57,64.28 L501.31,64.00 L502.05,63.72 L502.79,63.44 L503.54,63.16 L504.29,62.89 L505.04,62.61 L505.80,62.34 L506.56,62.07 L507.32,61.80 L508.09,61.53 L508.85,61.26 L509.62,60.99 L510.40,60.72 L511.17,60.46 L511.95,60.19 L512.73,59.93 L513.52,59.66 L514.31,59.40 L515.10,59.14 L515.89,58.88 L516.69,58.62 L517.49,58.36 L518.29,58.11 L519.09,57.85 L519.90,57.59 L520.71,57.34 L521.53,57.08 L522.34,56.83 L523.16,56.58 L523.98,56.33 L524.81,56.08 L525.64,55.83 L526.47,55.58 L527.30,55.33 L528.14,55.08 L528.98,54.84 L529.82,54.59 L530.66,54.35 L531.51,54.10 L532.36,53.86 L533.22,53.62 L534.07,53.38 L534.93,53.14 L535.79,52.90 L536.66,52.66 L537.53,52.42 L538.40,52.18 L539.27,51.95 L540.15,51.71 L541.03,51.48 L541.91,51.24 L542.80,51.01 L543.68,50.78 L544.58,50.55 L545.47,50.31 L546.37,50.08 L547.27,49.85 L548.17,49.63 L549.07,49.40 L549.98,49.17 L550.89,48.94 L551.81,48.72 L552.72,48.49 L553.64,48.27 L554.57,48.04 L555.49,47.82 L556.42,47.60 L557.35,47.38 L558.28,47.15 L559.22,46.93 L560.16,46.71 L561.10,46.50 L562.05,46.28 L563.00,46.06 L563.95,45.84 L564.90,45.62 L565.86,45.41 L566.82,45.19 L567.78,44.98 L568.75,44.77 L569.72,44.55 L570.69,44.34 L571.66,44.13 L572.64,43.92 L573.62,43.71 L574.60,43.49 L575.59,43.29 L576.58,43.08 L577.57,42.87 L578.56,42.66 L579.56,42.45 L580.56,42.25 L581.56,42.04 L582.57,41.83 L583.58,41.63 L584.59,41.43 L585.60,41.22 L586.62,41.02 L587.64,40.82 L588.66,40.61 L589.69,40.41 L590.72,40.21 L591.75,40.01 L592.78,39.81 L593.82,39.61 L594.86,39.41 L595.91,39.22 L596.95,39.02 L598.00,38.82 L599.05,38.63 L600.11,38.43 L601.16,38.23 L602.22,38.04 L603.29,37.85 L604.35,37.65 L605.42,37.46 L606.49,37.27 L607.57,37.07 L608.65,36.88 L609.73,36.69 L610.81,36.50 L611.90,36.31 L612.99,36.12 L614.08,35.93 L615.17,35.74 L616.27,35.55 L617.37,35.37 L618.47,35.18 L619.58,34.99 L620.69,34.81 L621.80,34.62 L622.92,34.43 L624.03,34.25 L625.15,34.07 L626.28,33.88 L627.40,33.70 L628.53,33.51 L629.66,33.33 L630.80,33.15 L631.94,32.97 L633.08,32.79 L634.22,32.61 L635.37,32.43" stroke="#1020ff" stroke-width="1.9" stroke-dasharray="8.8 9.4" stroke-dashoffset="0.3"/>
</g>
<circle cx="576.5" cy="223.3" r="3.9" fill="url(#ballb)"/>
<g fill="none">
<path d="M564,237 H588.5" stroke="#f0103c" stroke-width="1.8"/>
<path d="M564,250.3 H586" stroke="#2e7d4f" stroke-width="1.7" stroke-dasharray="5.3 2.9"/>
<path d="M564,263.9 H572 M581.3,263.9 H588.5" stroke="#1020ff" stroke-width="1.9"/>
</g>
<g font-size="10.2">
<text x="591.5" y="226.5">Experimental Data</text>
<text x="590.5" y="240.1">Langmuir Model</text>
<text x="591.5" y="253.6">Freunidlich Model</text>
<text x="590.5" y="267.1">Temkin Model</text>
</g>
</svg></body></html>
